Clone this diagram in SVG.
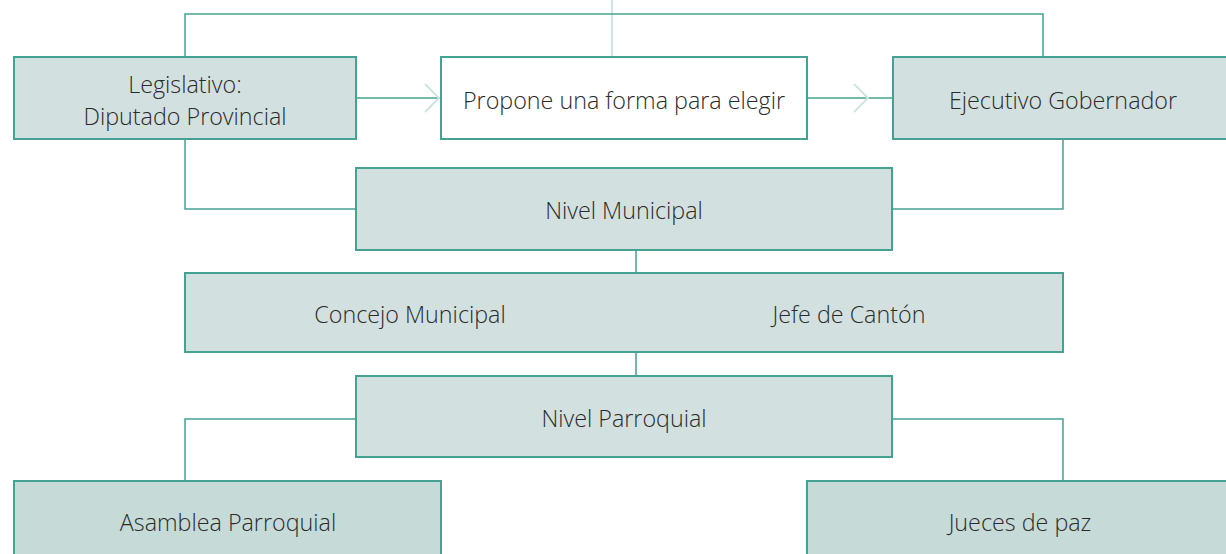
<svg xmlns="http://www.w3.org/2000/svg" width="1226" height="554" viewBox="0 0 1226 554">
<style>
.box{fill:#d2e1e0;stroke:#45a192;stroke-width:2}
.box2{fill:#c6dbd8;stroke:#45a192;stroke-width:2}
.wbox{fill:#ffffff;stroke:#45a192;stroke-width:2}
.ln{fill:none;stroke:#45a192;stroke-width:1.5}
.lt{fill:none;stroke:#cfe5e1;stroke-width:2}
text{font-family:"Open Sans","Noto Sans",sans-serif;font-weight:300;font-size:23.3px;fill:#2b2b2b;text-anchor:middle}
</style>
<rect width="1226" height="554" fill="#ffffff"/>
<g id="connectors">
<line class="lt" x1="612" y1="0" x2="612" y2="57"/>
<polyline class="ln" points="185,57 185,14 1043,14 1043,57"/>
<line class="ln" x1="356" y1="98" x2="441" y2="98"/>
<line class="ln" x1="807" y1="98" x2="893" y2="98"/>
<polyline class="lt" points="425,84 439,98 425,112"/>
<polyline class="lt" points="854,84 868,98 854,112"/>
<polyline class="ln" points="185,139 185,209 356,209"/>
<polyline class="ln" points="1063,139 1063,209 892,209"/>
<line class="ln" x1="636" y1="250" x2="636" y2="273"/>
<line class="ln" x1="636" y1="352" x2="636" y2="376"/>
<polyline class="ln" points="356,419 185,419 185,481"/>
<polyline class="ln" points="892,419 1063,419 1063,481"/>
</g>
<g id="legislativo"><rect class="box" x="14" y="57" width="342" height="82"/><text x="185" y="93">Legislativo:</text><text x="185" y="125">Diputado Provincial</text></g>
<g id="propone"><rect class="wbox" x="441" y="57" width="366" height="82"/><text x="624" y="109">Propone una forma para elegir</text></g>
<g id="ejecutivo"><rect class="box" x="893" y="57" width="345" height="82"/><text x="1063" y="109">Ejecutivo Gobernador</text></g>
<g id="municipal"><rect class="box" x="356" y="168" width="536" height="82"/><text x="624" y="219">Nivel Municipal</text></g>
<g id="concejo"><rect class="box" x="185" y="273" width="878" height="79"/><text x="410" y="323">Concejo Municipal</text><text x="849" y="323">Jefe de Cantón</text></g>
<g id="parroquial"><rect class="box" x="356" y="376" width="536" height="81"/><text x="624" y="427">Nivel Parroquial</text></g>
<g id="asamblea"><rect class="box2" x="14" y="481" width="427" height="85"/><text x="228" y="531">Asamblea Parroquial</text></g>
<g id="jueces"><rect class="box2" x="807" y="481" width="430" height="85"/><text x="1020" y="531">Jueces de paz</text></g>
</svg>
